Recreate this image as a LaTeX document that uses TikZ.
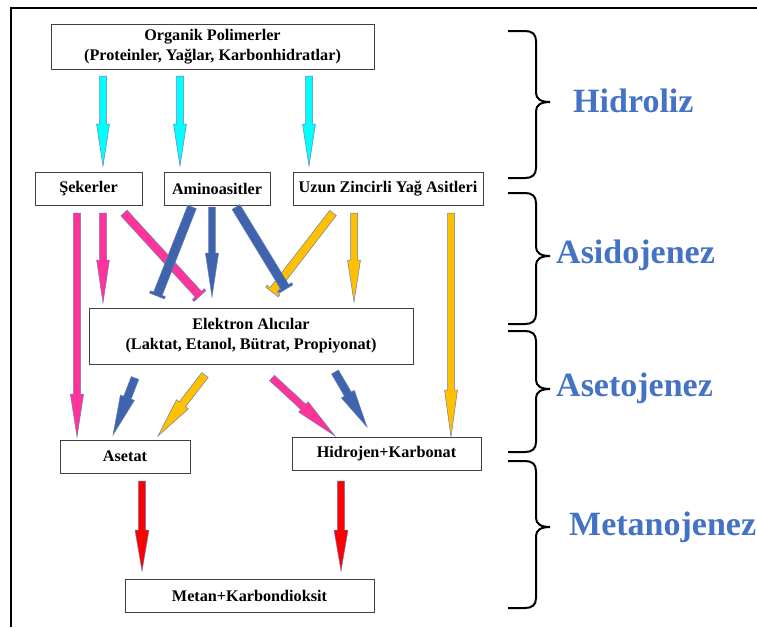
\documentclass[tikz,border=0pt]{standalone}
\usepackage{fontspec}
\setmainfont{Liberation Serif}
\usetikzlibrary{calc}
\definecolor{cyanA}{HTML}{00FFFF}
\definecolor{pinkA}{HTML}{FF3399}
\definecolor{blueA}{HTML}{3F63AD}
\definecolor{goldA}{HTML}{FFC000}
\definecolor{redA}{HTML}{FF0000}
\definecolor{labelblue}{HTML}{4472C4}
\definecolor{outlineA}{HTML}{6A7FB5}
\tikzset{
  box/.style={draw=black!75, line width=0.8pt, fill=white, inner sep=0pt, align=center,
    font=\fontsize{16.2}{20}\selectfont\bfseries},
  arrowline/.style={draw=outlineA, line width=0.5pt, line join=miter},
  bracestyle/.style={draw=black, line width=2pt},
  phase/.style={anchor=west, text=labelblue, inner sep=0pt, font=\fontsize{34}{40}\selectfont\bfseries}
}
% block arrow: fill colour, from, to, shaft half width, head half width, head length
\newcommand\blockarr[6]{%
  \coordinate (hb) at ($(#3)!#6!(#2)$);
  \filldraw[fill=#1, arrowline] ($(#2)!#4!90:(#3)$) -- ($(hb)!#4!90:(#3)$) -- ($(hb)!#5!90:(#3)$) -- (#3)
    -- ($(hb)!#5!-90:(#3)$) -- ($(hb)!#4!-90:(#3)$) -- ($(#2)!#4!-90:(#3)$) -- cycle;}
% blocked (T-bar) arrow: fill colour, from, to, shaft half width, bar half width
\newcommand\blockbar[5]{%
  \coordinate (tb) at ($(#3)!2.5pt!(#2)$);
  \filldraw[fill=#1, arrowline] ($(#2)!#4!90:(#3)$) -- ($(tb)!#4!90:(#3)$) -- ($(tb)!#5!90:(#3)$)
    -- ($(#3)!#5!-90:(#2)$) -- ($(#3)!#5!90:(#2)$) -- ($(tb)!#5!-90:(#3)$) -- ($(tb)!#4!-90:(#3)$)
    -- ($(#2)!#4!-90:(#3)$) -- cycle;}
% curly brace: top y, tip y, bottom y
\newcommand\phasebrace[3]{%
  \draw[bracestyle] (508,#1) -- (525,#1) .. controls (532,#1) and (536,#1+3) .. (536,#1+10)
    -- (536,#2-9) .. controls (536,#2-3) and (541,#2) .. (550,#2)
    .. controls (541,#2) and (536,#2+3) .. (536,#2+9)
    -- (536,#3-10) .. controls (536,#3-3) and (532,#3) .. (525,#3) -- (508,#3);}
\begin{document}
\begin{tikzpicture}[x=1pt,y=-1pt]
\useasboundingbox (0,0) rectangle (757,627);
\fill[white] (0,0) rectangle (757,627);
% frame
\draw[line width=2.2pt] (757,8) -- (11,8) -- (11,627);

% boxes
\node[box, minimum width=323pt, minimum height=45pt] (org) at (212.5,46.5) {Organik Polimerler\\(Proteinler, Yağlar, Karbonhidratlar)};
\node[box, minimum width=107pt, minimum height=33pt] (sek) at (88.5,188.5) {Şekerler};
\node[box, minimum width=106pt, minimum height=33pt] (amino) at (217,188.5) {Aminoasitler};
\node[box, minimum width=190pt, minimum height=33pt] (uzun) at (388,188.5) {Uzun Zincirli Yağ Asitleri};
\node[box, minimum width=324pt, minimum height=56pt] (elek) at (251,336) {Elektron Alıcılar\\(Laktat, Etanol, Bütrat, Propiyonat)};
\node[box, minimum width=130pt, minimum height=33pt] (aset) at (125,456.5) {Asetat};
\node[box, minimum width=189pt, minimum height=33pt] (hidro) at (386.5,453.5) {Hidrojen+Karbonat};
\node[box, minimum width=249pt, minimum height=33pt] (metan) at (249.5,595.5) {Metan+Karbondioksit};

% connector end points
\coordinate (c1s) at (103,76);  \coordinate (c1e) at (103,166);
\coordinate (c2s) at (180,76);  \coordinate (c2e) at (180,166);
\coordinate (c3s) at (309,76);  \coordinate (c3e) at (309,166);
\coordinate (p1s) at (77,213);  \coordinate (p1e) at (77,437);
\coordinate (p2s) at (103,213); \coordinate (p2e) at (103,303);
\coordinate (p3s) at (124,213); \coordinate (p3e) at (200,296);
\coordinate (b1s) at (192,207); \coordinate (b1e) at (157,296);
\coordinate (b2s) at (212,207); \coordinate (b2e) at (212,297);
\coordinate (b3s) at (236,207); \coordinate (b3e) at (286,289);
\coordinate (y1s) at (333,213); \coordinate (y1e) at (272,292);
\coordinate (y2s) at (354,213); \coordinate (y2e) at (354,302);
\coordinate (y3s) at (451,213); \coordinate (y3e) at (451,437);
\coordinate (l1s) at (135,378); \coordinate (l1e) at (113,435);
\coordinate (l2s) at (205,375); \coordinate (l2e) at (158,436);
\coordinate (l3s) at (272,378); \coordinate (l3e) at (335,436);
\coordinate (l4s) at (335,372); \coordinate (l4e) at (367,427);
\coordinate (r1s) at (142,481); \coordinate (r1e) at (142,571);
\coordinate (r2s) at (341,481); \coordinate (r2e) at (341,571);

% hydrolysis
\blockarr{cyanA}{c1s}{c1e}{3.5pt}{6.5pt}{42pt}
\blockarr{cyanA}{c2s}{c2e}{3.5pt}{6.5pt}{42pt}
\blockarr{cyanA}{c3s}{c3e}{3.5pt}{6.5pt}{42pt}
% acidogenesis
\blockarr{pinkA}{p1s}{p1e}{3.6pt}{6.6pt}{43pt}
\blockarr{pinkA}{p2s}{p2e}{3.6pt}{6.4pt}{43pt}
\blockbar{pinkA}{p3s}{p3e}{4.2pt}{8pt}
\blockbar{goldA}{y1s}{y1e}{4.2pt}{8pt}
\blockarr{goldA}{y2s}{y2e}{3.5pt}{6.5pt}{42pt}
\blockarr{goldA}{y3s}{y3e}{3.5pt}{6.5pt}{47pt}
\blockbar{blueA}{b1s}{b1e}{4.6pt}{8pt}
\blockarr{blueA}{b2s}{b2e}{3.4pt}{6.6pt}{44pt}
\blockbar{blueA}{b3s}{b3e}{4.6pt}{8pt}
% acetogenesis
\blockarr{blueA}{l1s}{l1e}{4pt}{7.5pt}{40pt}
\blockarr{goldA}{l2s}{l2e}{4pt}{7.5pt}{40pt}
\blockarr{pinkA}{l3s}{l3e}{3.6pt}{7pt}{43pt}
\blockarr{blueA}{l4s}{l4e}{4pt}{7.5pt}{38pt}
% methanogenesis
\blockarr{redA}{r1s}{r1e}{3.6pt}{7pt}{41pt}
\blockarr{redA}{r2s}{r2e}{3.6pt}{7pt}{41pt}

% braces and phase labels
\phasebrace{31}{102}{178}
\phasebrace{193}{256}{324}
\phasebrace{331}{389}{452}
\phasebrace{461}{527}{608}
\node[phase] (hyd) at (573,101) {Hidroliz};
\node[phase] (asid) at (556,255) {Asidojenez};
\node[phase] (aseto) at (556,388) {Asetojenez};
\node[phase] (metano) at (569,527) {Metanojenez};
\end{tikzpicture}
\end{document}
